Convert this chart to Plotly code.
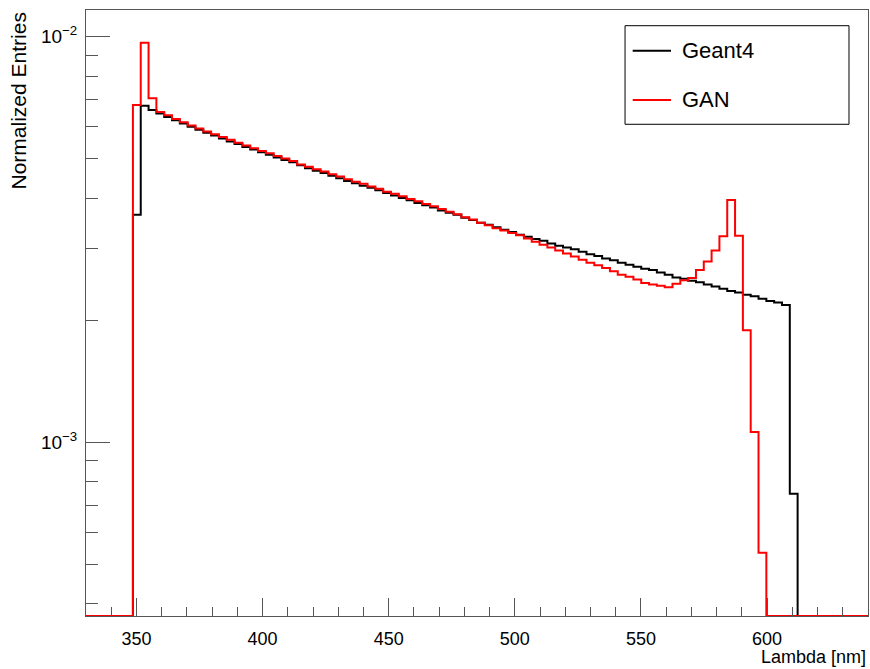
import numpy as np
import plotly.graph_objects as go

# histogram binning: 100 bins from 330 to 640 nm
bin_lo = 330.0
bin_width = 3.1
n_bins = 100

# normalized entries per bin (bins 0..99)
geant4 = [0] * 6 + [
    3.64e-3, 6.76e-3, 6.60e-3, 6.47e-3, 6.34e-3, 6.22e-3, 6.11e-3, 6.00e-3, 5.90e-3, 5.80e-3,
    5.71e-3, 5.61e-3, 5.52e-3, 5.44e-3, 5.35e-3, 5.27e-3, 5.19e-3, 5.12e-3, 5.04e-3, 4.97e-3,
    4.90e-3, 4.82e-3, 4.74e-3, 4.67e-3, 4.61e-3, 4.54e-3, 4.48e-3, 4.41e-3, 4.35e-3, 4.29e-3,
    4.24e-3, 4.18e-3, 4.12e-3, 4.06e-3, 4.00e-3, 3.95e-3, 3.89e-3, 3.84e-3, 3.79e-3, 3.73e-3,
    3.68e-3, 3.64e-3, 3.58e-3, 3.53e-3, 3.48e-3, 3.44e-3, 3.39e-3, 3.34e-3, 3.30e-3, 3.25e-3,
    3.21e-3, 3.17e-3, 3.14e-3, 3.09e-3, 3.05e-3, 3.02e-3, 2.99e-3, 2.95e-3, 2.91e-3, 2.88e-3,
    2.84e-3, 2.81e-3, 2.77e-3, 2.74e-3, 2.71e-3, 2.68e-3, 2.66e-3, 2.62e-3, 2.59e-3, 2.55e-3,
    2.53e-3, 2.50e-3, 2.48e-3, 2.45e-3, 2.42e-3, 2.39e-3, 2.36e-3, 2.34e-3, 2.31e-3, 2.29e-3,
    2.26e-3, 2.23e-3, 2.21e-3, 2.18e-3, 7.46e-4,
] + [0] * 9

gan = [0] * 6 + [
    6.79e-3, 9.66e-3, 7.05e-3, 6.52e-3, 6.40e-3, 6.27e-3, 6.15e-3, 6.04e-3, 5.94e-3, 5.84e-3,
    5.75e-3, 5.66e-3, 5.57e-3, 5.48e-3, 5.39e-3, 5.31e-3, 5.23e-3, 5.16e-3, 5.08e-3, 5.01e-3,
    4.94e-3, 4.84e-3, 4.78e-3, 4.71e-3, 4.65e-3, 4.58e-3, 4.52e-3, 4.45e-3, 4.39e-3, 4.34e-3,
    4.27e-3, 4.22e-3, 4.15e-3, 4.10e-3, 4.04e-3, 3.98e-3, 3.93e-3, 3.87e-3, 3.82e-3, 3.76e-3,
    3.70e-3, 3.65e-3, 3.59e-3, 3.54e-3, 3.48e-3, 3.43e-3, 3.37e-3, 3.33e-3, 3.28e-3, 3.24e-3,
    3.18e-3, 3.12e-3, 3.07e-3, 3.02e-3, 2.97e-3, 2.92e-3, 2.87e-3, 2.82e-3, 2.77e-3, 2.73e-3,
    2.69e-3, 2.64e-3, 2.59e-3, 2.56e-3, 2.52e-3, 2.47e-3, 2.45e-3, 2.43e-3, 2.41e-3, 2.46e-3,
    2.51e-3, 2.54e-3, 2.66e-3, 2.79e-3, 2.97e-3, 3.22e-3, 3.96e-3, 3.23e-3, 1.89e-3, 1.06e-3,
    5.34e-4,
] + [0] * 13

series_names = ["Geant4", "GAN"]
series_colors = ["#000000", "#ff0000"]

x_tick_vals = [350, 400, 450, 500, 550, 600]
y_major_vals = [1e-3, 1e-2]
y_major_text = ["10<sup>\u22123</sup>", "10<sup>\u22122</sup>"]
y_minor_vals = [4e-4, 5e-4, 6e-4, 7e-4, 8e-4, 9e-4,
                2e-3, 3e-3, 4e-3, 5e-3, 6e-3, 7e-3, 8e-3, 9e-3]

assert len(geant4) == n_bins and len(gan) == n_bins

y_range = [-3.4286, -1.934]
y_floor = 10 ** y_range[0]
edges = bin_lo + bin_width * np.arange(n_bins + 1)

font = "Liberation Sans, Arial, sans-serif"
fig = go.Figure()

for vals, name, color in zip([geant4, gan], series_names, series_colors):
    v = np.array(vals, dtype=float)
    v = np.where(v > 0, v, y_floor)  # empty bins sit on the frame bottom like ROOT
    y = np.append(v, v[-1])
    fig.add_trace(go.Scatter(x=edges, y=y, mode="lines", line_shape="hv",
                             line=dict(color=color, width=2), name=name,
                             showlegend=False))

# dummy trace so the minor-tick overlay axis is drawn
fig.add_trace(go.Scatter(x=[], y=[], yaxis="y2", showlegend=False))

axis_col = "#555555"
fig.update_layout(
    width=870, height=669,
    margin=dict(l=86, r=2, t=10, b=53),
    paper_bgcolor="white", plot_bgcolor="white",
    font=dict(family=font, size=17, color="black"),
    xaxis=dict(range=[bin_lo, bin_lo + bin_width * n_bins], tickvals=x_tick_vals,
               ticks="inside", ticklen=18, tickcolor=axis_col, tickwidth=1,
               minor=dict(dtick=10, tick0=350, ticks="inside", ticklen=9,
                          tickcolor=axis_col, tickwidth=1),
               showline=True, linecolor=axis_col, linewidth=1, mirror=True,
               showgrid=False, zeroline=False, ticklabelstandoff=6,
               tickfont=dict(size=18)),
    yaxis=dict(type="log", range=y_range, tickvals=y_major_vals, ticktext=y_major_text,
               ticks="inside", ticklen=24, tickcolor=axis_col, tickwidth=1,
               showline=True, linecolor=axis_col, linewidth=1, mirror=True,
               showgrid=False, zeroline=False, tickfont=dict(size=19),
               ticklabelstandoff=4),
    yaxis2=dict(type="log", range=y_range, overlaying="y", side="left", anchor="x",
                tickvals=y_minor_vals, ticks="inside", ticklen=12, tickcolor=axis_col,
                tickwidth=1, showticklabels=False, showline=False, showgrid=False,
                zeroline=False),
)

# axis titles, ROOT style (right / top aligned)
fig.add_annotation(text="Lambda [nm]", xref="paper", yref="paper", x=1.0, y=-0.068,
                   xanchor="right", yanchor="middle", showarrow=False,
                   font=dict(size=18))
fig.add_annotation(text="Normalized Entries", xref="paper", yref="paper",
                   x=-0.0857, y=1.0, xanchor="center", yanchor="top", textangle=-90,
                   showarrow=False, font=dict(size=21))

# legend box drawn by hand
fig.add_shape(type="rect", xref="paper", yref="paper", x0=0.6893, x1=0.9757,
              y0=0.8114, y1=0.9741, line=dict(color="black", width=1),
              fillcolor="white", layer="above")
for name, color, ly in zip(series_names, series_colors, [0.9328, 0.8515]):
    fig.add_shape(type="line", xref="paper", yref="paper", x0=0.6991, x1=0.7481,
                  y0=ly, y1=ly, line=dict(color=color, width=2), layer="above")
    fig.add_annotation(text=name, xref="paper", yref="paper", x=0.7596, y=ly,
                       xanchor="left", yanchor="middle", showarrow=False,
                       font=dict(size=22))

# drop the default page margin so the figure fills the window exactly
fig.write_html("out.html", config={"displayModeBar": False},
               post_script="document.body.style.margin='0';document.body.style.overflow='hidden';")
